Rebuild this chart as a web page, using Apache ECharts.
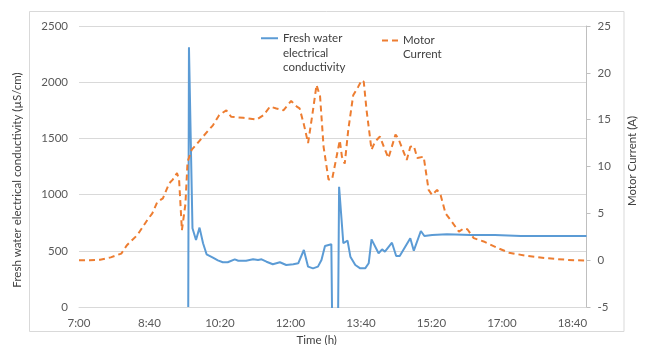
<!DOCTYPE html>
<html><head><meta charset="utf-8">
<script src="https://cdn.jsdelivr.net/npm/echarts@6/dist/echarts.min.js"></script>
<style>html,body{margin:0;padding:0;background:#fff}#c{width:650px;height:345px}</style>
</head><body><div id="c"></div>
<script>
// x values: minutes after 7:00
const xTickLabels = ['7:00','8:40','10:20','12:00','13:40','15:20','17:00','18:40'];
const ecName = 'Fresh water\nelectrical\nconductivity';
const curName = 'Motor\nCurrent';
const ecTimes = [155,156,161,166,171,176,181,190,197,204,211,221,226,237,247,254,259,266,275,285,294,304,311,319,325,332,339,344,349,358,364,369,375,381,385,392,399,406,411,415,425,430,434,444,450,455,470,475,485,490,501,522,556,590,627,680,720];
const ecValues = [0,2310,700,596,706,567,469,439,415,398,398,424,412,412,424,418,424,403,380,398,374,380,389,507,359,344,359,418,543,558,-3000,1070,567,590,448,374,344,344,389,602,478,513,492,572,454,454,611,501,676,632,640,647,640,640,632,632,632];
const curTimes = [0,15,30,45,60,68,83,97,104,111,119,121,128,133,139,142,146,151,154,160,166,176,190,199,209,216,233,252,262,271,280,290,301,309,313,319,325,331,337,342,347,354,359,364,370,373,377,382,389,396,401,404,408,415,420,427,433,439,449,453,465,470,475,480,489,496,501,508,513,520,529,539,546,551,560,574,594,610,636,665,693,720];
const curValues = [0.0,0.0,0.05,0.3,0.7,1.6,2.7,4.3,5.0,6.2,6.6,6.5,8.2,8.6,9.3,8.6,3.2,6.0,10.5,11.8,12.3,13.2,14.4,15.5,16.0,15.3,15.2,15.0,15.5,16.4,16.2,16.0,17.0,16.4,16.2,14.5,12.5,15.5,18.7,17.5,12.1,8.6,8.6,10.5,12.8,11.05,10.3,13.9,17.6,18.5,19.2,19.05,16.0,11.8,12.65,13.2,12.0,10.9,13.4,13.0,10.7,12.1,12.2,10.9,11.05,7.5,6.96,7.5,6.96,5.0,4.1,3.05,3.4,3.3,2.35,2.0,1.3,0.8,0.45,0.2,0.03,-0.05];

const FONT = 'Lato';
const FS = 11.5;
const chart = echarts.init(document.getElementById('c'));
chart.setOption({
  animation: false,
  backgroundColor: '#fff',
  textStyle: {fontFamily: FONT},
  grid: {left: 79, right: 63.5, top: 26, bottom: 38, containLabel: false, outerBoundsMode: 'none'},
  graphic: [{
    type: 'rect', silent: true, z: -1,
    shape: {x: 29.5, y: 11.5, width: 594.5, height: 320},
    style: {fill: 'none', stroke: '#d9d9d9', lineWidth: 1}
  }],
  legend: [{
    data: [ecName], left: 255, top: -3.5, padding: 5,
    itemWidth: 17, itemHeight: 8, itemGap: 5,
    itemStyle: {opacity: 0},
    formatter: n => '\n\n' + n,
    textStyle: {fontFamily: FONT, fontSize: FS, color: '#404040', lineHeight: 14.7}
  }, {
    data: [curName], left: 376, top: 14, padding: 5,
    itemWidth: 16, itemHeight: 8, itemGap: 5,
    itemStyle: {opacity: 0},
    formatter: n => '\n' + n,
    textStyle: {fontFamily: FONT, fontSize: FS, color: '#404040', lineHeight: 14.3}
  }],
  xAxis: {
    type: 'value', min: 0, max: 720, interval: 100,
    name: 'Time (h)', nameLocation: 'middle', nameGap: 27,
    nameTextStyle: {fontFamily: FONT, fontSize: FS, color: '#404040', padding: [0, 32, 0, 0]},
    axisLine: {show: true, lineStyle: {color: '#d9d9d9'}},
    axisTick: {show: false},
    splitLine: {show: false},
    axisLabel: {
      fontFamily: FONT, fontSize: FS, color: '#595959', margin: 10,
      formatter: v => (v % 100 === 0 ? (xTickLabels[v / 100] || '') : ''),
      showMaxLabel: false
    }
  },
  yAxis: [{
    type: 'value', min: 0, max: 2500, interval: 500,
    name: 'Fresh water electrical conductivity (µS/cm)', nameLocation: 'middle', nameGap: 56,
    nameTextStyle: {fontFamily: FONT, fontSize: FS, color: '#404040', padding: [0, 27, 0, 0]},
    axisLine: {show: false}, axisTick: {show: false},
    splitLine: {lineStyle: {color: '#d9d9d9'}},
    axisLabel: {fontFamily: FONT, fontSize: FS, color: '#595959', margin: 11, formatter: v => String(v)}
  }, {
    type: 'value', min: -5, max: 25, interval: 5, position: 'right',
    name: 'Motor Current (A)', nameLocation: 'middle', nameGap: 40,
    nameTextStyle: {fontFamily: FONT, fontSize: FS, color: '#404040', padding: [0, 0, 0, 11]},
    axisLine: {show: true, lineStyle: {color: '#bfbfbf'}},
    axisTick: {show: true, length: 4, lineStyle: {color: '#bfbfbf'}},
    splitLine: {show: false},
    axisLabel: {fontFamily: FONT, fontSize: FS, color: '#595959', margin: 11, formatter: v => String(v)}
  }],
  series: [{
    name: ecName, type: 'line', yAxisIndex: 0, symbol: 'none', showSymbol: false,
    clip: true,
    data: ecTimes.map((t, i) => [t, ecValues[i]]),
    lineStyle: {color: '#5B9BD5', width: 2},
    itemStyle: {color: '#5B9BD5'}
  }, {
    name: curName, type: 'line', yAxisIndex: 1, symbol: 'none', showSymbol: false,
    clip: true,
    data: curTimes.map((t, i) => [t, curValues[i]]),
    lineStyle: {color: '#ED7D31', width: 2, type: [6, 4]},
    itemStyle: {color: '#ED7D31'}
  }]
});
</script></body></html>
